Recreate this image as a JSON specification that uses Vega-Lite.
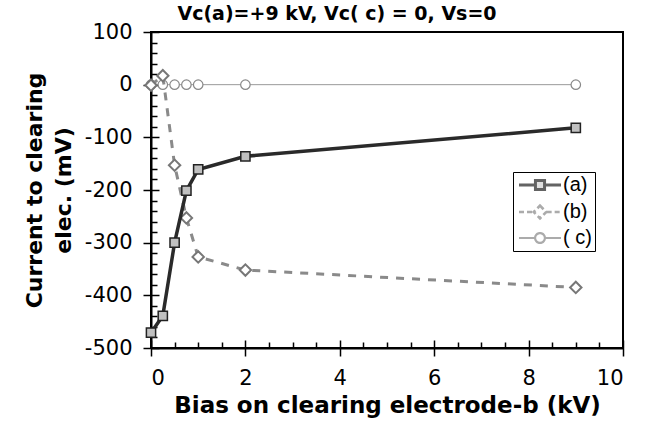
{
  "$schema": "https://vega.github.io/schema/vega-lite/v6.json",
  "width": 472,
  "height": 316,
  "autosize": {"type": "none"},
  "padding": {"left": 151, "top": 32, "right": 22, "bottom": 74},
  "title": {"text": "Vc(a)=+9 kV, Vc( c) = 0, Vs=0", "font": "DejaVu Sans", "fontSize": 19, "fontWeight": "bold", "color": "black", "anchor": "middle", "frame": "group", "dx": -50, "dy": 7, "offset": 4},
  "data": {"values": [
    {"s": "(a)", "bias": 0, "current": -471},
    {"s": "(a)", "bias": 0.25, "current": -439},
    {"s": "(a)", "bias": 0.5, "current": -300},
    {"s": "(a)", "bias": 0.75, "current": -201},
    {"s": "(a)", "bias": 1, "current": -161},
    {"s": "(a)", "bias": 2, "current": -136},
    {"s": "(a)", "bias": 9, "current": -82},
    {"s": "(b)", "bias": 0, "current": -1},
    {"s": "(b)", "bias": 0.25, "current": 17},
    {"s": "(b)", "bias": 0.5, "current": -153},
    {"s": "(b)", "bias": 0.75, "current": -253},
    {"s": "(b)", "bias": 1, "current": -327},
    {"s": "(b)", "bias": 2, "current": -352},
    {"s": "(b)", "bias": 9, "current": -385},
    {"s": "( c)", "bias": 0, "current": 0},
    {"s": "( c)", "bias": 0.25, "current": 0},
    {"s": "( c)", "bias": 0.5, "current": 0},
    {"s": "( c)", "bias": 0.75, "current": 0},
    {"s": "( c)", "bias": 1, "current": 0},
    {"s": "( c)", "bias": 2, "current": 0},
    {"s": "( c)", "bias": 9, "current": 0}
  ]},
  "config": {
    "view": {"stroke": "black", "strokeWidth": 2},
    "axis": {"grid": false, "domainColor": "black", "domainWidth": 2, "tickColor": "black", "tickWidth": 1.5, "labelFont": "DejaVu Sans", "labelFontSize": 21, "labelColor": "black", "titleFont": "DejaVu Sans", "titleFontSize": 23, "titleFontWeight": "bold", "titleColor": "black"},
    "legend": {"labelFont": "Liberation Sans", "labelFontSize": 20, "labelColor": "black"}
  },
  "resolve": {"axis": {"x": "independent", "y": "independent"}},
  "layer": [
    {
      "transform": [{"filter": "datum.s === '( c)'"}],
      "mark": {"type": "line", "color": "#999999", "strokeWidth": 1},
      "encoding": {
        "x": {"field": "bias", "type": "quantitative", "scale": {"domain": [0, 10], "nice": false}, "axis": {"orient": "bottom", "values": [0, 2, 4, 6, 8, 10], "tickSize": -8, "labels": false, "domain": false, "title": null}},
        "y": {"field": "current", "type": "quantitative", "scale": {"domain": [-500, 100], "nice": false, "zero": false}, "axis": {"orient": "left", "values": [-500, -400, -300, -200, -100, 0, 100], "tickSize": -8, "labels": false, "domain": false, "title": null}}
      }
    },
    {
      "transform": [{"filter": "datum.s === '( c)'"}],
      "mark": {"type": "point", "shape": "circle", "size": 90, "filled": true, "fill": "white", "stroke": "#888888", "strokeWidth": 1.2, "opacity": 1},
      "encoding": {
        "x": {"field": "bias", "type": "quantitative", "axis": null},
        "y": {"field": "current", "type": "quantitative", "axis": null}
      }
    },
    {
      "transform": [{"filter": "datum.s === '(b)'"}],
      "mark": {"type": "line", "color": "#8a8a8a", "strokeWidth": 3, "strokeDash": [8, 8]},
      "encoding": {
        "x": {"field": "bias", "type": "quantitative", "axis": {"orient": "bottom", "values": [0.5, 1, 1.5, 2.5, 3, 3.5, 4.5, 5, 5.5, 6.5, 7, 7.5, 8.5, 9, 9.5], "tickSize": -6, "labels": false, "domain": false, "title": null}},
        "y": {"field": "current", "type": "quantitative", "axis": {"orient": "left", "values": [-480, -460, -440, -420, -380, -360, -340, -320, -280, -260, -240, -220, -180, -160, -140, -120, -80, -60, -40, -20, 20, 40, 60, 80], "tickSize": -6, "labels": false, "domain": false, "title": null}}
      }
    },
    {
      "transform": [{"filter": "datum.s === '(b)'"}],
      "mark": {"type": "point", "shape": "diamond", "size": 130, "filled": true, "fill": "white", "stroke": "#777777", "strokeWidth": 2, "opacity": 1},
      "encoding": {
        "x": {"field": "bias", "type": "quantitative", "axis": null},
        "y": {"field": "current", "type": "quantitative", "axis": null}
      }
    },
    {
      "transform": [{"filter": "datum.s === '(a)'"}],
      "mark": {"type": "line", "color": "#2a2a2a", "strokeWidth": 3.5},
      "encoding": {
        "x": {"field": "bias", "type": "quantitative", "axis": {"orient": "bottom", "values": [0, 2, 4, 6, 8, 10], "tickSize": 8, "labelPadding": 11, "title": "Bias on clearing electrode-b (kV)", "titlePadding": 6}},
        "y": {"field": "current", "type": "quantitative", "axis": {"orient": "left", "values": [-500, -400, -300, -200, -100, 0, 100], "tickSize": 8, "labelPadding": 11, "labelExpr": "datum.value < 0 ? '-' + (-datum.value) : '' + datum.value", "title": ["Current to clearing", "elec. (mV)"], "titlePadding": 9, "titleFontSize": 22, "titleLineHeight": 29}}
      }
    },
    {
      "transform": [{"filter": "datum.s === '(a)'"}],
      "mark": {"type": "point", "shape": "square", "size": 85, "filled": true, "fill": "#c0c0c0", "stroke": "#222222", "strokeWidth": 1.5, "opacity": 1},
      "encoding": {
        "x": {"field": "bias", "type": "quantitative", "axis": null},
        "y": {"field": "current", "type": "quantitative", "axis": null}
      }
    },
    {
      "transform": [{"filter": "false"}],
      "mark": {"type": "point"},
      "encoding": {
        "x": {"field": "bias", "type": "quantitative", "axis": null},
        "y": {"field": "current", "type": "quantitative", "axis": null},
        "shape": {"field": "s", "type": "nominal", "scale": {"domain": ["(a)", "(b)", "( c)"], "range": ["M-1,0H1.35M2.65,0H5M1.35,-0.65H2.65V0.65H1.35Z", "M-1,0H1.05M2.95,0H5M2,-0.9L2.9,0L2,0.9L1.1,0Z", "M-1,0H1.3M2.7,0H5M2.7,0A0.7,0.7 0 1,1 1.3,0A0.7,0.7 0 1,1 2.7,0Z"]},
          "legend": {"title": null, "orient": "none", "legendX": 362, "legendY": 140, "padding": 3, "strokeColor": "black", "fillColor": "white", "symbolSize": 196, "labelOffset": 27, "rowPadding": 4}},
        "stroke": {"field": "s", "type": "nominal", "scale": {"domain": ["(a)", "(b)", "( c)"], "range": ["#222222", "#888888", "#888888"]}},
        "fill": {"field": "s", "type": "nominal", "scale": {"domain": ["(a)", "(b)", "( c)"], "range": ["#c0c0c0", "#ffffff", "#ffffff"]}},
        "strokeWidth": {"field": "s", "type": "nominal", "scale": {"domain": ["(a)", "(b)", "( c)"], "range": [3, 2.2, 1.2]}},
        "strokeDash": {"field": "s", "type": "nominal", "scale": {"domain": ["(a)", "(b)", "( c)"], "range": [[1, 0], [5, 3], [1, 0]]}}
      }
    }
  ]
}
